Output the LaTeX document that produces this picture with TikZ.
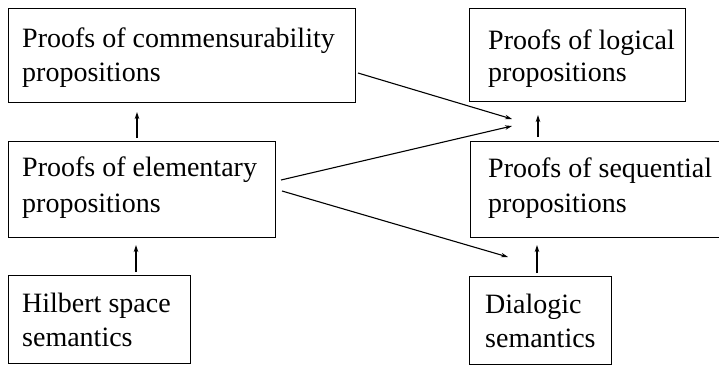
\documentclass[tikz,border=0pt]{standalone}
\usepackage{fontspec}
\setmainfont{Liberation Serif}
\usetikzlibrary{arrows.meta}
\begin{document}
\begin{tikzpicture}[x=1bp,y=-1bp,
  box/.style={draw, line width=1.4bp, rectangle, inner sep=0pt, anchor=north west},
  txt/.style={anchor=base west, inner sep=0pt, font=\fontsize{28bp}{34bp}\selectfont},
  arr/.style={line width=1.1bp, -{Stealth[length=7bp,width=4.5bp]}}]
\useasboundingbox (0,0) rectangle (719,365);
\clip (0,0) rectangle (719,365);
% boxes
\node[box, minimum width=347bp, minimum height=94bp] (comm) at (8,8) {};
\node[box, minimum width=267bp, minimum height=96bp] (elem) at (8,141) {};
\node[box, minimum width=182bp, minimum height=88bp] (hilb) at (8,275) {};
\node[box, minimum width=216bp, minimum height=93bp] (logi) at (469,8) {};
\node[box, minimum width=260bp, minimum height=96bp] (sequ) at (470,141) {};
\node[box, minimum width=142bp, minimum height=88bp] (dial) at (469,276) {};
% texts
\node[txt] (comm1) at (22,47) {Proofs of commensurability};
\node[txt] (comm2) at (22,81) {propositions};
\node[txt] (elem1) at (22,176) {Proofs of elementary};
\node[txt] (elem2) at (22,212) {propositions};
\node[txt] (hilb1) at (22,312) {Hilbert space};
\node[txt] (hilb2) at (22,346) {semantics};
\node[txt] (logi1) at (488,49) {Proofs of logical};
\node[txt] (logi2) at (488,81) {propositions};
\node[txt] (sequ1) at (488,177) {Proofs of sequential};
\node[txt] (sequ2) at (488,212) {propositions};
\node[txt] (dial1) at (485,313) {Dialogic};
\node[txt] (dial2) at (485,347) {semantics};
% connector end points
\coordinate (p1s) at (137,138); \coordinate (p1e) at (137,112);
\coordinate (p2s) at (136,272); \coordinate (p2e) at (136,245);
\coordinate (p3s) at (537,273); \coordinate (p3e) at (537,245);
\coordinate (p4s) at (538,137); \coordinate (p4e) at (538,115);
\coordinate (p5s) at (358,73);  \coordinate (p5e) at (512,119);
\coordinate (p6s) at (281,180); \coordinate (p6e) at (512,126);
\coordinate (p7s) at (282,191); \coordinate (p7e) at (508,257);
\draw[arr] (p1s) -- (p1e);
\draw[arr] (p2s) -- (p2e);
\draw[arr] (p3s) -- (p3e);
\draw[arr] (p4s) -- (p4e);
\draw[arr] (p5s) -- (p5e);
\draw[arr] (p6s) -- (p6e);
\draw[arr] (p7s) -- (p7e);
\end{tikzpicture}
\end{document}
